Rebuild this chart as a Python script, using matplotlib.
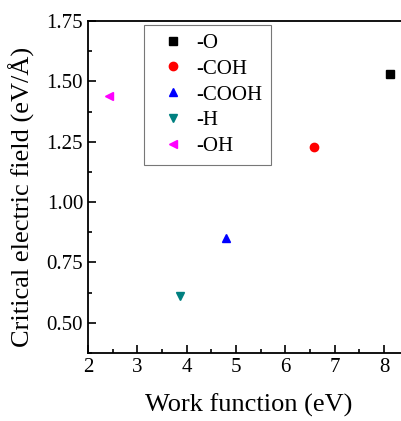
import matplotlib.pyplot as plt
from matplotlib.ticker import MultipleLocator

# === DATA ===
labels = ["-O", "-COH", "-COOH", "-H", "-OH"]
work_function = [8.12, 6.57, 4.80, 3.86, 2.42]
critical_field = [1.53, 1.23, 0.85, 0.61, 1.44]
markers = ["s", "o", "^", "v", "<"]
colors = ["black", "red", "blue", "#008080", "magenta"]

plt.rcParams["font.family"] = ["Liberation Serif", "DejaVu Serif"]

fig = plt.figure(figsize=(4.01, 4.21), dpi=100)
# axes runs past the right edge, as the original figure is cropped there
ax = fig.add_axes([0.2195, 0.1615, 0.800, 0.7885])

for x, y, lab, m, c in zip(work_function, critical_field, labels, markers, colors):
    ax.plot(x, y, linestyle="none", marker=m, color=c, markersize=6, label=lab)

ax.set_xlim(2, 8.5)
ax.set_ylim(0.375, 1.75)
ax.xaxis.set_major_locator(MultipleLocator(1))
ax.xaxis.set_minor_locator(MultipleLocator(0.5))
ax.yaxis.set_major_locator(MultipleLocator(0.25))
ax.yaxis.set_minor_locator(MultipleLocator(0.125))
ax.yaxis.set_major_formatter(lambda v, p: f"{v:.2f}")

ax.tick_params(which="both", direction="in", top=False, right=False,
               labelsize=15, width=1.2)
ax.tick_params(which="major", length=6)
ax.tick_params(which="minor", length=3)
for s in ax.spines.values():
    s.set_linewidth(1.3)

ax.set_xlabel("Work function (eV)", fontsize=19, labelpad=12)
ax.set_ylabel("Critical electric field (eV/Å)", fontsize=19)
ax.yaxis.set_label_coords(-0.165, 0.47)

leg = ax.legend(loc="upper left", bbox_to_anchor=(0.175, 0.988), fontsize=15,
                frameon=True, fancybox=False, handletextpad=0.1,
                labelspacing=0.3, borderpad=0.4, handlelength=2.0,
                borderaxespad=0)
leg.get_frame().set_edgecolor("#555555")
leg.get_frame().set_linewidth(0.8)

fig.savefig("out.png", dpi=100)
